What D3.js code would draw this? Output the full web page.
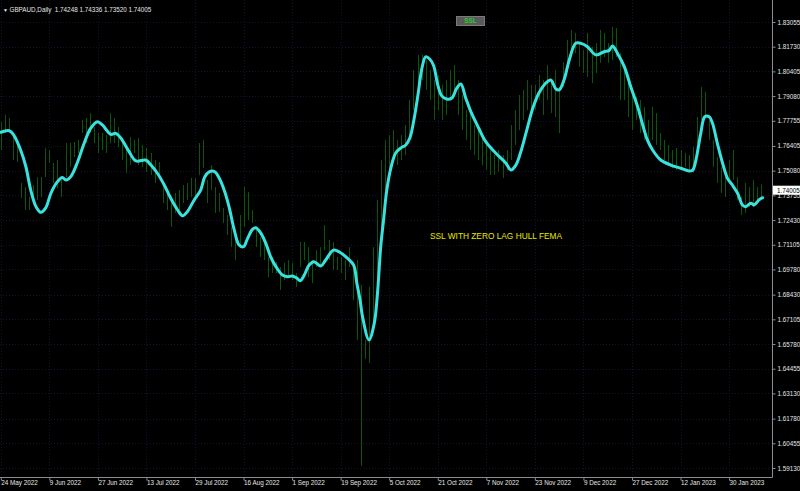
<!DOCTYPE html>
<html><head><meta charset="utf-8">
<script src="https://cdn.jsdelivr.net/npm/d3@7"></script>
<style>html,body{margin:0;padding:0;background:#000;overflow:hidden}</style>
</head><body><svg id="c" width="800" height="491"></svg>
<script>
// ---- data ----
const symbolName = "GBPAUD,Daily";
const ohlcLast = ["1.74248", "1.74336", "1.73520", "1.74005"];
const lastPrice = 1.74005;
const indicatorName = "SSL";
const chartNote = "SSL WITH ZERO LAG HULL FEMA";
const priceLabels = ["1.83055","1.81730","1.80405","1.79080","1.77755","1.76405","1.75080","1.73755","1.72430","1.71105","1.69780","1.68430","1.67105","1.65780","1.64455","1.63130","1.61780","1.60455","1.59130"];
const dateLabels = ["24 May 2022","9 Jun 2022","27 Jun 2022","13 Jul 2022","29 Jul 2022","16 Aug 2022","1 Sep 2022","19 Sep 2022","5 Oct 2022","21 Oct 2022","7 Nov 2022","23 Nov 2022","9 Dec 2022","27 Dec 2022","12 Jan 2023","30 Jan 2023"];
const dateLabelBars = [0,12,24,36,48,60,72,84,96,108,120,132,144,156,168,180];
const barHigh = [1.7769,1.7807,1.7791,1.7710,1.7646,1.7442,1.7420,1.7367,1.7431,1.7474,1.7474,1.7630,1.7619,1.7549,1.7565,1.7458,1.7656,1.7656,1.7662,1.7673,
1.7780,1.7791,1.7817,1.7742,1.7710,1.7710,1.7699,1.7817,1.7791,1.7742,1.7673,1.7619,1.7689,1.7673,1.7683,1.7646,1.7630,1.7603,1.7565,1.7554,
1.7442,1.7388,1.7351,1.7388,1.7404,1.7431,1.7442,1.7469,1.7469,1.7656,1.7673,1.7458,1.7538,1.7420,1.7388,1.7308,1.7270,1.7206,1.7174,1.7270,
1.7420,1.7393,1.7297,1.7190,1.7152,1.7136,1.7045,1.7045,1.7018,1.6991,1.7013,1.7029,1.7013,1.6959,1.7125,1.7125,1.7098,1.7029,1.7082,1.7098,
1.7216,1.7136,1.7125,1.7045,1.7045,1.7029,1.7098,1.7002,1.7029,1.6895,1.6600,1.6884,1.7098,1.7351,1.7565,1.7673,1.7699,1.7726,1.7673,1.7699,
1.7753,1.7887,1.8048,1.8129,1.8129,1.8102,1.8048,1.7994,1.8021,1.7968,1.7994,1.8048,1.8075,1.7994,1.7914,1.7833,1.7807,1.7753,1.7726,1.7699,
1.7673,1.7619,1.7592,1.7619,1.7592,1.7619,1.7753,1.7833,1.7914,1.7941,1.7994,1.7968,1.7968,1.8021,1.7994,1.8075,1.7994,1.8048,1.7957,1.8091,
1.8209,1.8263,1.8247,1.8193,1.8155,1.8247,1.8172,1.8193,1.8263,1.8247,1.8193,1.8279,1.8273,1.8139,1.8064,1.7994,1.7925,1.7903,1.7887,1.7850,
1.7780,1.7850,1.7817,1.7710,1.7673,1.7646,1.7619,1.7630,1.7619,1.7603,1.7592,1.7635,1.7796,1.7957,1.7930,1.7780,1.7673,1.7581,1.7528,1.7474,
1.7565,1.7619,1.7474,1.7367,1.7442,1.7420,1.7458,1.7420,1.7434];
const barLow = [1.7619,1.7710,1.7715,1.7565,1.7554,1.7361,1.7297,1.7297,1.7324,1.7351,1.7367,1.7474,1.7549,1.7442,1.7415,1.7367,1.7474,1.7528,1.7581,1.7603,
1.7710,1.7656,1.7710,1.7656,1.7603,1.7619,1.7603,1.7656,1.7656,1.7635,1.7565,1.7496,1.7538,1.7603,1.7538,1.7528,1.7501,1.7485,1.7442,1.7469,
1.7334,1.7297,1.7206,1.7281,1.7297,1.7334,1.7351,1.7367,1.7351,1.7485,1.7522,1.7334,1.7404,1.7281,1.7286,1.7227,1.7163,1.7098,1.7029,1.7093,
1.7206,1.7243,1.7227,1.7098,1.7045,1.7029,1.6937,1.6959,1.6959,1.6868,1.6921,1.6937,1.6921,1.6884,1.6991,1.7029,1.6937,1.6905,1.6991,1.6991,
1.7082,1.7029,1.6975,1.6975,1.6959,1.6921,1.6991,1.6814,1.6600,1.5924,1.6498,1.6476,1.6691,1.6830,1.7190,1.7404,1.7512,1.7565,1.7538,1.7565,
1.7592,1.7673,1.7833,1.7914,1.7994,1.7941,1.7887,1.7780,1.7833,1.7780,1.7807,1.7887,1.7914,1.7807,1.7726,1.7673,1.7619,1.7592,1.7565,1.7538,
1.7512,1.7485,1.7485,1.7501,1.7469,1.7512,1.7565,1.7646,1.7726,1.7780,1.7833,1.7807,1.7833,1.7887,1.7807,1.7887,1.7817,1.7796,1.7710,1.7957,
1.8085,1.8118,1.8139,1.8064,1.8032,1.8011,1.7978,1.8032,1.8086,1.8118,1.8086,1.8102,1.8118,1.7887,1.7887,1.7796,1.7726,1.7780,1.7710,1.7673,
1.7673,1.7673,1.7646,1.7619,1.7565,1.7538,1.7522,1.7512,1.7528,1.7528,1.7501,1.7496,1.7656,1.7780,1.7796,1.7673,1.7528,1.7442,1.7388,1.7367,
1.7458,1.7458,1.7351,1.7270,1.7281,1.7313,1.7313,1.7334,1.7352];
const sslBar = [0,2.1,3.2,4.9,6.2,7.4,8.7,9.9,11.1,12.4,14.0,15.2,16.1,17.3,19.0,20.6,22.2,23.9,25.1,27.2,28.4,29.7,31.7,33.4,35.8,37.1,38.7,40.4,42.0,43.7,44.9,46.1,47.8,49.4,50.4,51.5,52.9,54.0,55.2,56.4,57.7,58.9,60.0,61.0,62.2,63.0,64.3,65.5,66.7,68.0,69.6,70.9,72.1,73.2,74.0,75.0,76.2,77.4,79.1,80.3,82.2,83.6,85.7,87.2,88.0,88.8,89.4,91.0,92.3,93.1,93.9,94.6,95.4,96.4,97.6,98.9,100.1,101.1,102.1,103.1,104.1,105.0,106.0,107.0,108.0,109.0,110.2,111.5,112.7,113.7,114.9,116.2,118.1,119.9,122.3,124.8,126.1,127.3,128.5,130.0,131.5,133.0,134.5,135.9,137.2,138.0,139.2,140.5,142.1,143.4,145.0,147.1,149.1,150.3,151.2,152.4,154.1,155.7,157.4,159.8,161.1,163.1,165.6,168.1,170.1,171.0,171.8,173.0,174.0,175.1,175.9,177.1,178.4,179.6,180.8,182.1,183.3,184.1,185.4,186.2,187.4,188.3];
const sslValue = [1.7714,1.7722,1.7699,1.7619,1.7529,1.7404,1.7315,1.7285,1.7308,1.7388,1.7449,1.7472,1.7458,1.7476,1.7556,1.7655,1.7735,1.7771,1.7753,1.7703,1.7708,1.7682,1.7610,1.7560,1.7565,1.7538,1.7494,1.7431,1.7360,1.7297,1.7266,1.7288,1.7351,1.7404,1.7474,1.7502,1.7502,1.7467,1.7404,1.7315,1.7190,1.7109,1.7100,1.7145,1.7193,1.7202,1.7172,1.7118,1.7046,1.6993,1.6948,1.6939,1.6943,1.6931,1.6918,1.6948,1.7002,1.7020,1.6997,1.7029,1.7082,1.7073,1.7038,1.7002,1.6904,1.6814,1.6725,1.6600,1.6689,1.6850,1.7100,1.7243,1.7404,1.7522,1.7603,1.7630,1.7646,1.7683,1.7780,1.7914,1.8059,1.8118,1.8107,1.8069,1.7968,1.7909,1.7892,1.7898,1.7951,1.7973,1.7898,1.7823,1.7737,1.7662,1.7603,1.7549,1.7512,1.7538,1.7608,1.7726,1.7844,1.7925,1.7973,1.7994,1.7946,1.7941,1.7994,1.8102,1.8191,1.8191,1.8173,1.8129,1.8146,1.8152,1.8177,1.8138,1.8066,1.7958,1.7851,1.7673,1.7619,1.7565,1.7538,1.7521,1.7506,1.7511,1.7565,1.7708,1.7797,1.7797,1.7762,1.7655,1.7548,1.7467,1.7431,1.7387,1.7324,1.7315,1.7333,1.7324,1.7351,1.7363];

// ---- layout ----
const W = 800, H = 491, plotR = 772, plotB = 477;
const svg = d3.select("#c");
svg.append("rect").attr("width", W).attr("height", H).attr("fill", "#000");

const x = d3.scaleLinear().domain([0, 180]).range([0.8, 0.8 + 180 * 4.046]);
const y = d3.scaleLinear().domain([1.59130, 1.83055]).range([468, 22]);
const font = "Tahoma, 'Liberation Sans', Arial, sans-serif";

// grid
const grid = svg.append("g");
grid.selectAll("line.h").data(priceLabels).join("line")
  .attr("x1", 0).attr("x2", plotR).attr("y1", d => Math.round(y(+d)) + 0.5).attr("y2", d => Math.round(y(+d)) + 0.5)
  .attr("stroke", "#12122e").attr("stroke-dasharray", "1,2");
grid.selectAll("line.v").data(dateLabelBars).join("line")
  .attr("y1", 0).attr("y2", plotB).attr("x1", d => Math.round(x(d)) + 0.5).attr("x2", d => Math.round(x(d)) + 0.5)
  .attr("stroke", "#12122e").attr("stroke-dasharray", "1,2");

// bars
svg.append("g").selectAll("line").data(barHigh).join("line")
  .attr("x1", (d, i) => Math.round(x(i)) + 0.5).attr("x2", (d, i) => Math.round(x(i)) + 0.5)
  .attr("y1", d => y(d)).attr("y2", (d, i) => y(barLow[i]))
  .attr("stroke", "#0c560c").attr("stroke-width", 1);

// SSL line
const pts = sslBar.map((b, i) => [b, sslValue[i]]);
svg.append("path").datum(pts)
  .attr("d", d3.line().x(d => x(d[0])).y(d => y(d[1])).curve(d3.curveCatmullRom.alpha(0.5)))
  .attr("fill", "none").attr("stroke", "#38e3df").attr("stroke-width", 3)
  .attr("stroke-linejoin", "round").attr("stroke-linecap", "round");

// mask below/right of plot
svg.append("rect").attr("x", plotR).attr("y", 0).attr("width", W - plotR).attr("height", H).attr("fill", "#000");
svg.append("rect").attr("x", 0).attr("y", plotB).attr("width", W).attr("height", H - plotB).attr("fill", "#000");

// axes
const yAxis = d3.axisRight(y).tickValues(priceLabels.map(Number)).tickFormat((d, i) => priceLabels[i]).tickSize(3).tickPadding(2);
const gy = svg.append("g").attr("transform", `translate(${plotR + 0.5},0)`).call(yAxis);
gy.select(".domain").attr("d", `M0,0V${plotB + 0.5}`).attr("stroke", "#8c8c8c");
gy.selectAll(".tick line").attr("stroke", "#8c8c8c");
gy.selectAll(".tick text").attr("fill", "#e6e6e6").style("font", `6.3px ${font}`);

const xAxis = d3.axisBottom(x).tickValues(dateLabelBars).tickFormat((d, i) => dateLabels[i]).tickSize(3).tickPadding(2);
const gx = svg.append("g").attr("transform", `translate(0,${plotB + 0.5})`).call(xAxis);
gx.select(".domain").attr("d", `M0,0H${plotR + 0.5}`).attr("stroke", "#8c8c8c");
gx.selectAll(".tick line").attr("stroke", "#8c8c8c");
gx.selectAll(".tick text").attr("fill", "#e6e6e6").attr("text-anchor", "start").attr("x", 0).attr("y", 3)
  .style("font", `6.3px ${font}`);

// current price box
const yl = y(lastPrice);
svg.append("rect").attr("x", plotR + 1).attr("y", yl - 5).attr("width", W - plotR - 1).attr("height", 9).attr("fill", "#fff");
svg.append("text").attr("x", plotR + 5).attr("y", yl).attr("dy", "0.3em").attr("fill", "#000")
  .style("font", `6.3px ${font}`).text(lastPrice.toFixed(5));

// title
svg.append("text").attr("x", 3).attr("y", 12).attr("fill", "#e6e6e6").style("font", `5px ${font}`).text("▼");
svg.append("text").attr("x", 9.5).attr("y", 12).attr("fill", "#e6e6e6").style("font", `6.3px ${font}`)
  .attr("xml:space", "preserve").text(symbolName + "  " + ohlcLast.join(" "));

// SSL button
svg.append("rect").attr("x", 456.5).attr("y", 16.5).attr("width", 28).attr("height", 9).attr("fill", "#5a5a5a").attr("stroke", "#7a7a7a");
svg.append("text").attr("x", 470.5).attr("y", 21).attr("dy", "0.35em").attr("text-anchor", "middle").attr("fill", "#2fc82f")
  .style("font", `bold 6.5px ${font}`).text(indicatorName);

// note
svg.append("text").attr("x", 430).attr("y", 238.5).attr("fill", "#e8e800").style("font", `9px ${font}`)
  .attr("textLength", 132).attr("lengthAdjust", "spacingAndGlyphs").text(chartNote);
</script></body></html>
